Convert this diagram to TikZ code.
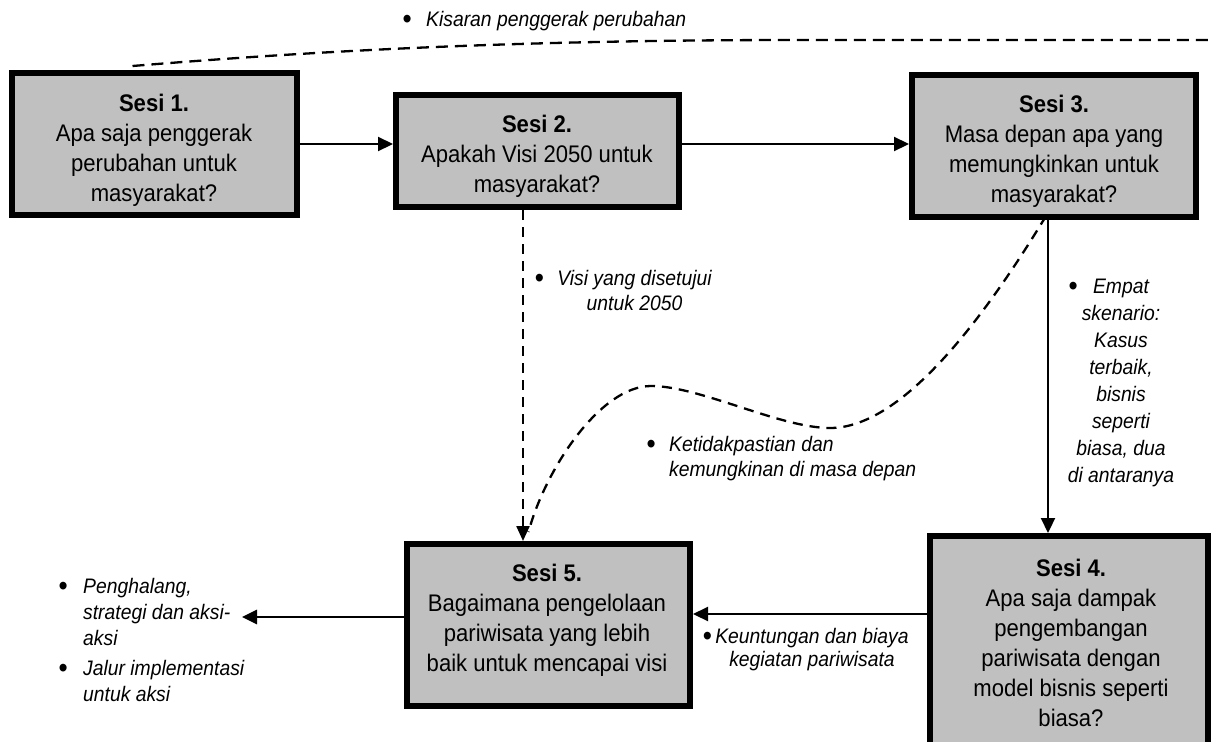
\documentclass[tikz,border=0pt]{standalone}
\usepackage{fontspec}
\setmainfont{Liberation Sans}[FakeStretch=0.92]
\usetikzlibrary{arrows.meta,calc}
\definecolor{boxgray}{RGB}{192,192,192}
\tikzset{
  sbox/.style={draw=black, fill=boxgray, line width=6pt, inner sep=0pt},
  btxt/.style={align=center, font=\fontsize{24}{30}\selectfont, inner sep=0pt},
  ltxt/.style={font=\fontsize{21}{25}\selectfont\itshape, inner sep=0pt},
  conn/.style={line width=2.2pt, -{Triangle[length=15pt,width=14pt]}},
  dconn/.style={line width=2.3pt, dash pattern=on 10pt off 7pt},
}
\newcommand\bul[1]{\llap{\upshape\raisebox{-2pt}{\scalebox{1.35}{\textbullet}}\hspace{#1}}}
\begin{document}
\begin{tikzpicture}[x=1pt,y=-1pt]
\useasboundingbox (0,0) rectangle (1211,742);
\clip (0,0) rectangle (1211,742);
\fill[white] (0,0) rectangle (1211,742);

% boxes
\node[sbox, minimum width=285pt, minimum height=142pt] (b1) at (154.5,144) {};
\node[sbox, minimum width=283pt, minimum height=112pt] (b2) at (537.5,151) {};
\node[sbox, minimum width=284pt, minimum height=142pt] (b3) at (1054,146) {};
\node[sbox, minimum width=278pt, minimum height=213pt] (b4) at (1069,642.5) {};
\node[sbox, minimum width=283pt, minimum height=162pt] (b5) at (548.5,625) {};

% box texts
\node[btxt] (t1) at (154,150) {\textbf{Sesi 1.}\\Apa saja penggerak\\perubahan untuk\\masyarakat?};
\node[btxt] (t2) at (537,156) {\textbf{Sesi 2.}\\Apakah Visi 2050 untuk\\masyarakat?};
\node[btxt] (t3) at (1054,151) {\textbf{Sesi 3.}\\Masa depan apa yang\\memungkinkan untuk\\masyarakat?};
\node[btxt] (t4) at (1071,643) {\textbf{Sesi 4.}\\Apa saja dampak\\pengembangan\\pariwisata dengan\\model bisnis seperti\\biasa?};
\node[btxt] (t5) at (547,620) {\textbf{Sesi 5.}\\Bagaimana pengelolaan\\pariwisata yang lebih\\baik untuk mencapai visi};

% labels
\node[ltxt, anchor=west] (lkis) at (426,21) {\bul{14.4pt}Kisaran penggerak perubahan};
\node[ltxt, align=center] (lvisi) at (634.5,290.5) {\bul{13.4pt}Visi yang disetujui\\untuk 2050};
\node[ltxt, align=left, anchor=west] (lket) at (669,458.5) {\bul{13.4pt}Ketidakpastian dan\\kemungkinan di masa depan};
\node[ltxt, align=center, font=\fontsize{21}{27}\selectfont\itshape] (lemp) at (1121,383) {\bul{15.4pt}Empat\\skenario:\\Kasus\\terbaik,\\bisnis\\seperti\\biasa, dua\\di antaranya};
\node[ltxt, align=center, font=\fontsize{21}{23}\selectfont\itshape] (lkeu) at (812,649.5) {\bul{3.4pt}Keuntungan dan biaya\\kegiatan pariwisata};
\node[ltxt, align=left, anchor=west, font=\fontsize{21}{26}\selectfont\itshape] (lout) at (83,640) {\bul{15.4pt}Penghalang,\\strategi dan aksi-\\aksi\\[4pt]\bul{15.4pt}Jalur implementasi\\untuk aksi};

% helper coordinates
\coordinate (vx2) at (523,0);
\coordinate (vx3) at (1048,0);
\coordinate (yk) at (0,614);
\coordinate (outl) at (242,617);
\coordinate (topr) at (1212,40);

% solid connectors
\draw[conn] (b1.east) -- (b1.east -| b2.west);
\draw[conn] (b2.east |- b1.east) -- (b3.west |- b1.east);
\draw[conn] (vx3 |- b3.south) -- (vx3 |- b4.north);
\draw[conn] (b4.west |- yk) -- (b5.east |- yk);
\draw[conn, line width=2.8pt] (b5.west |- outl) -- (outl);

% dashed connectors
\draw[dconn, -{Triangle[length=15pt,width=13pt]}] (vx2 |- b2.south) -- (vx2 |- b5.north);
\draw[dconn] ($(b3.south)+(-8,-4)$) .. controls (980,325) and (900,428) .. (830,428)
  .. controls (780,428) and (700,386) .. (651,386)
  .. controls (600,386) and (545,470) .. ($(b5.north)+(-20,-9)$);
\draw[dconn, dash pattern=on 12pt off 7pt] ($(b1.north)+(-22,-4)$) .. controls (350,48) and (550,40) .. (800,40) -- (topr);
\end{tikzpicture}
\end{document}
